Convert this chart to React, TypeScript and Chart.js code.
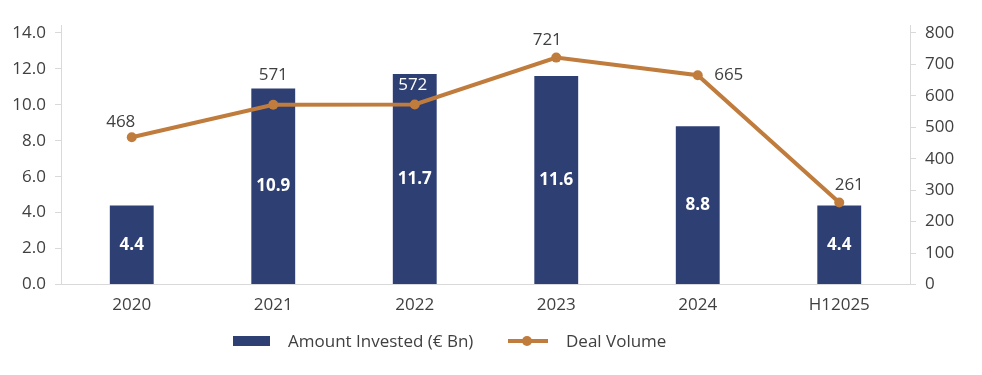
import React, { useEffect, useRef } from "react";
import { Chart, registerables } from "chart.js";

Chart.register(...registerables);

const categories = ["2020", "2021", "2022", "2023", "2024", "H12025"];
const amountInvested = [4.4, 10.9, 11.7, 11.6, 8.8, 4.4];
const dealVolume = [468, 571, 572, 721, 665, 261];
const leftTicks = [0, 2, 4, 6, 8, 10, 12, 14];
const rightTicks = [0, 100, 200, 300, 400, 500, 600, 700, 800];
const seriesNames = ["Amount Invested (€ Bn)", "Deal Volume"];

// label placement (style) for the deal volume labels: [dx, dy] from the point
const dealLabelOffsets = [
  [-11, -15],
  [0, -30],
  [-2, -19],
  [-9, -17],
  [31, 0],
  [10, -17],
];
const dealLabelColors = ["#404040", "#404040", "#ffffff", "#404040", "#404040", "#404040"];

const BAR_COLOR = "#2E3F73";
const LINE_COLOR = "#C07C3C";
const TEXT_COLOR = "#404040";
const AXIS_COLOR = "#D9D9D9";
const FONT = "'Open Sans', 'DejaVu Sans', sans-serif";

const labelPlugin = {
  id: "valueLabels",
  afterDatasetsDraw(chart: any) {
    const ctx = chart.ctx;
    ctx.save();
    ctx.textAlign = "center";
    ctx.textBaseline = "middle";
    const barMeta = chart.getDatasetMeta(0);
    ctx.font = `bold 17px ${FONT}`;
    ctx.fillStyle = "#ffffff";
    barMeta.data.forEach((bar: any, i: number) => {
      const y = (bar.y + bar.base) / 2;
      ctx.fillText(amountInvested[i].toFixed(1), bar.x, y);
    });
    const lineMeta = chart.getDatasetMeta(1);
    ctx.font = `17px ${FONT}`;
    lineMeta.data.forEach((pt: any, i: number) => {
      const [dx, dy] = dealLabelOffsets[i];
      ctx.fillStyle = dealLabelColors[i];
      ctx.fillText(String(dealVolume[i]), pt.x + dx, pt.y + dy);
    });
    ctx.restore();
  },
};

export default function App() {
  const canvasRef = useRef<HTMLCanvasElement | null>(null);

  useEffect(() => {
    document.body.style.margin = "0";
    const canvas = canvasRef.current;
    if (!canvas) return;
    const chart = new Chart(canvas, {
      type: "bar",
      data: {
        labels: categories,
        datasets: [
          {
            type: "bar",
            label: seriesNames[0],
            data: amountInvested,
            backgroundColor: BAR_COLOR,
            yAxisID: "y",
            order: 2,
            barPercentage: 0.31,
            categoryPercentage: 1,
          },
          {
            type: "line",
            label: seriesNames[1],
            data: dealVolume,
            borderColor: LINE_COLOR,
            backgroundColor: LINE_COLOR,
            borderWidth: 4,
            pointRadius: 5,
            pointBackgroundColor: LINE_COLOR,
            pointBorderWidth: 0,
            yAxisID: "y1",
            order: 1,
            tension: 0,
          } as any,
        ],
      },
      options: {
        responsive: false,
        animation: false,
        layout: { padding: { top: 25, bottom: 50, left: 0, right: 0 } },
        plugins: {
          legend: { display: false },
          tooltip: { enabled: false },
        },
        scales: {
          x: {
            grid: { display: false, drawTicks: false },
            border: { display: true, color: AXIS_COLOR, width: 1 },
            ticks: { color: TEXT_COLOR, font: { family: FONT, size: 17 }, padding: 10 },
          },
          y: {
            position: "left",
            min: 0,
            max: 14.43,
            afterBuildTicks: (scale: any) => {
              scale.ticks = leftTicks.map((v) => ({ value: v }));
            },
            afterFit: (scale: any) => {
              scale.width = 61;
            },
            grid: { drawOnChartArea: false, drawTicks: true, tickLength: 6, color: AXIS_COLOR },
            border: { display: true, color: AXIS_COLOR },
            ticks: {
              color: TEXT_COLOR,
              font: { family: FONT, size: 17 },
              padding: 9,
              callback: (v: any) => Number(v).toFixed(1),
            },
          },
          y1: {
            position: "right",
            min: 0,
            max: 824.6,
            afterBuildTicks: (scale: any) => {
              scale.ticks = rightTicks.map((v) => ({ value: v }));
            },
            afterFit: (scale: any) => {
              scale.width = 72;
            },
            grid: { drawOnChartArea: false, drawTicks: true, tickLength: 6, color: AXIS_COLOR },
            border: { display: true, color: AXIS_COLOR },
            ticks: {
              color: TEXT_COLOR,
              font: { family: FONT, size: 17 },
              padding: 9,
              callback: (v: any) => String(v),
            },
          },
        },
      },
      plugins: [labelPlugin],
    });
    return () => chart.destroy();
  }, []);

  const legendText: React.CSSProperties = {
    position: "absolute",
    top: 330,
    height: 22,
    lineHeight: "22px",
    fontFamily: FONT,
    fontSize: 17,
    color: TEXT_COLOR,
    whiteSpace: "nowrap",
  };

  return (
    <div style={{ position: "relative", width: 982, height: 375 }}>
      <canvas ref={canvasRef} width={982} height={375} style={{ display: "block" }} />
      <div
        style={{
          position: "absolute",
          left: 233,
          top: 336,
          width: 37,
          height: 10,
          background: BAR_COLOR,
        }}
      />
      <div style={{ ...legendText, left: 288 }}>{seriesNames[0]}</div>
      <div
        style={{
          position: "absolute",
          left: 508,
          top: 339,
          width: 40,
          height: 4,
          background: LINE_COLOR,
        }}
      />
      <div
        style={{
          position: "absolute",
          left: 522,
          top: 336,
          width: 10,
          height: 10,
          borderRadius: 5,
          background: LINE_COLOR,
        }}
      />
      <div style={{ ...legendText, left: 566 }}>{seriesNames[1]}</div>
    </div>
  );
}
